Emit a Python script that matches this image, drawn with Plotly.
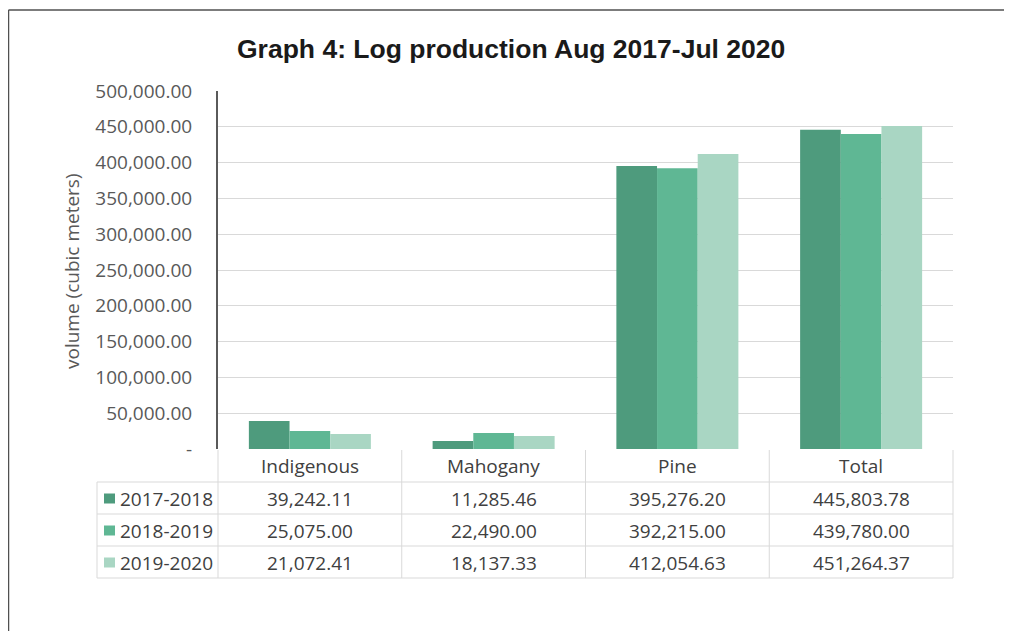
import plotly.graph_objects as go

# ---- data ----
categories = ["Indigenous", "Mahogany", "Pine", "Total"]
series_names = ["2017-2018", "2018-2019", "2019-2020"]
vals_2017_2018 = [39242.11, 11285.46, 395276.20, 445803.78]
vals_2018_2019 = [25075.00, 22490.00, 392215.00, 439780.00]
vals_2019_2020 = [21072.41, 18137.33, 412054.63, 451264.37]
y_tick_values = [0, 50000, 100000, 150000, 200000, 250000, 300000, 350000, 400000, 450000, 500000]
y_tick_labels = ["-", "50,000.00", "100,000.00", "150,000.00", "200,000.00", "250,000.00",
                 "300,000.00", "350,000.00", "400,000.00", "450,000.00", "500,000.00"]
title_text = "Graph 4: Log production Aug 2017-Jul 2020"
y_title = "volume (cubic meters)"

series_values = [vals_2017_2018, vals_2018_2019, vals_2019_2020]
colors = ["#4E9B7D", "#5FB794", "#A9D6C3"]

# page body margin offset (figure drawn at 8,8 in the window)
OFF = 8
W, H = 1012 - OFF, 631 - OFF
def px(x):
    return (x - OFF) / W
def py(y):
    return 1 - (y - OFF) / H

# plot area in screen pixels
X0, X1 = 218, 953
Y_TOP, Y_ZERO = 91, 449

FONT = "Open Sans"
TXT = "#404040"
FS = 19

fig = go.Figure()
for name, vals, col in zip(series_names, series_values, colors):
    fig.add_trace(go.Bar(x=categories, y=vals, name=name, marker=dict(color=col, line=dict(width=0)),
                         showlegend=False))

shapes = []
annotations = []

# frame
shapes.append(dict(type="line", xref="paper", yref="paper", x0=px(8.5), x1=1, y0=py(10), y1=py(10),
                   line=dict(color="#505050", width=1.5)))
shapes.append(dict(type="line", xref="paper", yref="paper", x0=px(8.5), x1=px(8.5), y0=py(10), y1=0,
                   line=dict(color="#505050", width=1.5)))

# data table
grid_col = "#D9D9D9"
col_w = (X1 - X0) / len(categories)
col_edges = [X0 + i * col_w for i in range(len(categories) + 1)]
row_lines = [482, 514, 546, 578]
header_y = 466
row_centers = [498.5, 530.5, 562.5]
TL = 97

for yl in row_lines:
    shapes.append(dict(type="line", xref="paper", yref="paper", x0=px(TL), x1=px(X1), y0=py(yl), y1=py(yl),
                       line=dict(color=grid_col, width=1)))
for xe in col_edges:
    shapes.append(dict(type="line", xref="paper", yref="paper", x0=px(xe), x1=px(xe), y0=py(Y_ZERO + 1), y1=py(578),
                       line=dict(color=grid_col, width=1)))
shapes.append(dict(type="line", xref="paper", yref="paper", x0=px(TL), x1=px(TL), y0=py(482), y1=py(578),
                   line=dict(color=grid_col, width=1)))

for i, cat in enumerate(categories):
    cx = (col_edges[i] + col_edges[i + 1]) / 2
    annotations.append(dict(x=px(cx), y=py(header_y), xref="paper", yref="paper", text=cat, showarrow=False,
                            xanchor="center", yanchor="middle", font=dict(family=FONT, size=FS, color=TXT)))
    for r, vals in enumerate(series_values):
        annotations.append(dict(x=px(cx), y=py(row_centers[r]), xref="paper", yref="paper",
                                text=f"{vals[i]:,.2f}", showarrow=False, xanchor="center", yanchor="middle",
                                font=dict(family=FONT, size=FS, color=TXT)))

for r, (name, col) in enumerate(zip(series_names, colors)):
    cy = row_centers[r]
    shapes.append(dict(type="rect", xref="paper", yref="paper", x0=px(104), x1=px(115), y0=py(cy + 5), y1=py(cy - 5),
                       fillcolor=col, line=dict(width=0)))
    annotations.append(dict(x=px(118), y=py(cy), xref="paper", yref="paper", text=name, showarrow=False,
                            xanchor="left", yanchor="middle", font=dict(family=FONT, size=FS, color=TXT)))

# title
annotations.append(dict(x=px(511), y=py(49), xref="paper", yref="paper", text=f"<b>{title_text}</b>",
                        showarrow=False, xanchor="center", yanchor="middle",
                        font=dict(family="Liberation Sans", size=26.5, color="#1a1a1a")))
# y title
annotations.append(dict(x=px(72), y=py(271), xref="paper", yref="paper", text=y_title, textangle=-90,
                        showarrow=False, xanchor="center", yanchor="middle",
                        font=dict(family=FONT, size=19, color="#595959")))

fig.update_layout(
    template="none",
    width=W, height=H,
    margin=dict(l=0, r=0, t=0, b=0, pad=0),
    paper_bgcolor="white", plot_bgcolor="white",
    barmode="group", bargap=0.336, bargroupgap=0,
    xaxis=dict(domain=[px(X0), px(X1)], range=[-0.5, 3.5], showticklabels=False, showgrid=False,
               zeroline=False, showline=False, fixedrange=True, automargin=False),
    yaxis=dict(domain=[py(Y_ZERO), py(Y_TOP)], range=[0, 500000], tickvals=y_tick_values, ticktext=y_tick_labels,
               showgrid=True, gridcolor="#D9D9D9", gridwidth=1, zeroline=False, automargin=False,
               showline=True, linecolor="#5A5A5A", linewidth=2, ticks="", ticklabelstandoff=20,
               tickfont=dict(family=FONT, size=FS, color="#595959")),
    shapes=shapes, annotations=annotations,
)

fig.write_html("out.html")
